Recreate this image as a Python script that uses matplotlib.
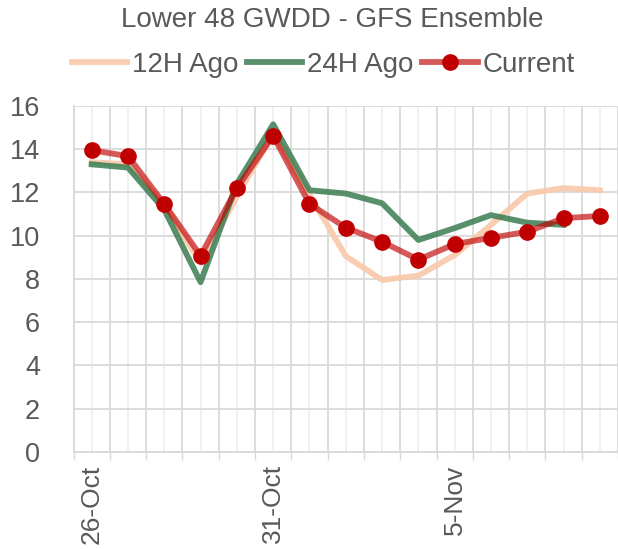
import matplotlib
matplotlib.use("Agg")
import matplotlib.pyplot as plt
import numpy as np

dates = ["26-Oct", "27-Oct", "28-Oct", "29-Oct", "30-Oct", "31-Oct", "1-Nov", "2-Nov",
         "3-Nov", "4-Nov", "5-Nov", "6-Nov", "7-Nov", "8-Nov", "9-Nov"]
shown_labels = ["26-Oct", "31-Oct", "5-Nov"]
ago12 = [13.4, 13.3, 11.4, 8.75, 11.8, 14.75, 11.9, 9.05, 7.95, 8.15, 9.1, 10.5, 11.95, 12.2, 12.1]
ago24 = [13.3, 13.15, 11.2, 7.85, 12.4, 15.15, 12.1, 11.95, 11.5, 9.8, 10.35, 10.95, 10.6, 10.5, np.nan]
current = [13.95, 13.68, 11.47, 9.07, 12.2, 14.62, 11.47, 10.37, 9.72, 8.89, 9.61, 9.90, 10.18, 10.81, 10.91]
yticks = [0, 2, 4, 6, 8, 10, 12, 14, 16]

plt.rcParams['font.family'] = ['Liberation Sans', 'DejaVu Sans']
txt = '#595959'
grid = '#D9D9D9'

fig = plt.figure(figsize=(6.18, 5.49), dpi=100)
ax = fig.add_axes([0.119, 0.177, 0.881, 0.630])

x = np.arange(len(dates))
l1, = ax.plot(x, ago12, color='#F8CBAD', lw=4.2, alpha=0.95, solid_joinstyle='round', zorder=3, label='12H Ago')
l2, = ax.plot(x, ago24, color='#3B7D52', lw=4.2, alpha=0.85, solid_joinstyle='round', zorder=4, label='24H Ago')
l3, = ax.plot(x, current, color='#C00000', lw=4.2, alpha=0.65, solid_joinstyle='round', zorder=5)
m3, = ax.plot(x, current, ls='none', marker='o', ms=11, color='#C00000', zorder=6)

ax.set_xlim(-0.5, len(dates) - 0.5)
ax.set_ylim(0, 16)
ax.set_yticks(yticks)
ax.set_yticklabels([str(v) for v in yticks])

# major ticks at category boundaries, minor gridlines at category centers
bounds = np.arange(-0.5, len(dates) + 0.5, 1)
ax.set_xticks(bounds)
ax.set_xticklabels([])
ax.tick_params(axis='x', which='major', length=6, color=grid, width=1)
ax.set_xticks(x, minor=True)
ax.set_xticklabels([d if d in shown_labels else '' for d in dates], minor=True,
                   rotation=90, fontsize=19, color=txt)
ax.tick_params(axis='x', which='minor', length=0, pad=9)
ax.tick_params(axis='y', length=0, pad=24, labelsize=19.5, labelcolor=txt)

for b in bounds:
    ax.axvline(b, color=grid, lw=1.3, zorder=1)
for c in x:
    ax.axvline(c, color='#EFEFEF', lw=1.3, zorder=0.9)
for yv in yticks:
    ax.axhline(yv, color=grid, lw=1.3, zorder=1)

for s in ['top', 'right']:
    ax.spines[s].set_visible(False)
for s in ['left', 'bottom']:
    ax.spines[s].set_color(grid)
    ax.spines[s].set_linewidth(1.3)

fig.text(0.537, 0.963, 'Lower 48 GWDD - GFS Ensemble', ha='center', va='center',
         fontsize=20, color=txt)

leg = fig.legend([l1, l2, (l3, m3)], ['12H Ago', '24H Ago', 'Current'],
                 loc='center', bbox_to_anchor=(0.523, 0.882), ncol=3, frameon=False,
                 fontsize=20, handlelength=2.0, handletextpad=0.18, columnspacing=0.3,
                 labelcolor=txt, borderpad=0, borderaxespad=0)

fig.savefig('out.png', dpi=100)
